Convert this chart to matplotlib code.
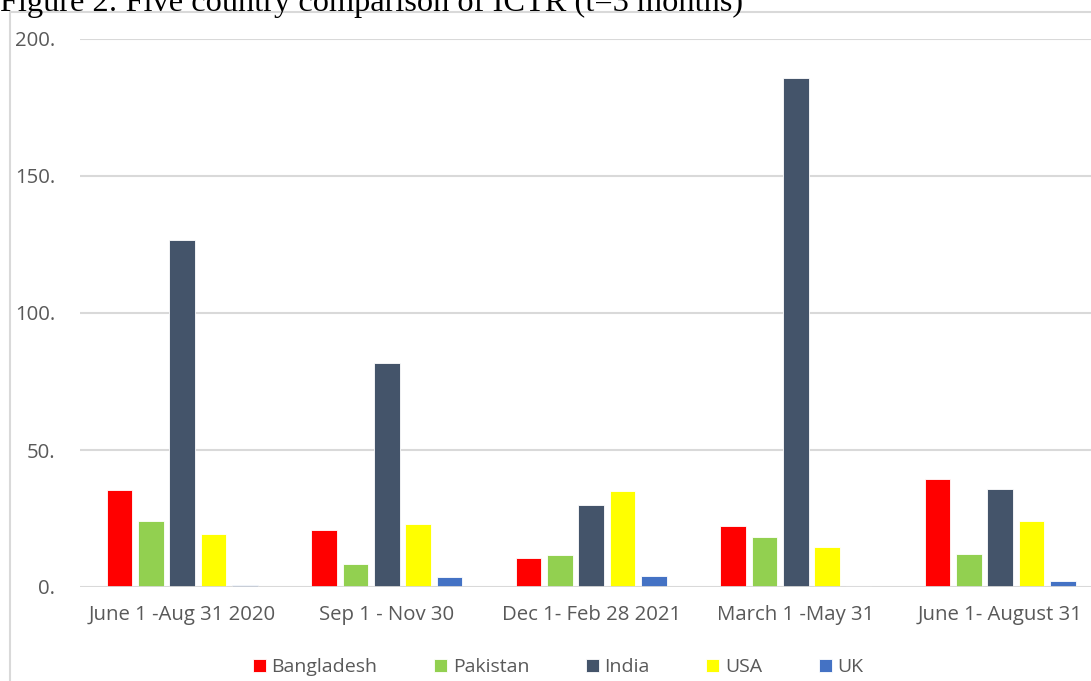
import matplotlib.pyplot as plt
from matplotlib.patches import Rectangle
import numpy as np

periods = ['June 1 -Aug 31 2020', 'Sep 1 - Nov 30', 'Dec 1- Feb 28 2021',
           'March 1 -May 31', 'June 1- August 31']
countries = ['Bangladesh', 'Pakistan', 'India', 'USA', 'UK']

bangladesh = [35.4, 20.8, 10.6, 22.3, 39.4]
pakistan = [24.1, 8.4, 11.7, 18.2, 12.0]
india = [126.6, 81.8, 29.9, 185.8, 35.8]
usa = [19.3, 23.0, 35.0, 14.6, 24.1]
uk = [0.7, 3.6, 4.0, 0.3, 2.2]

yticks = [0, 50, 100, 150, 200]
ytick_labels = ['0.', '50.', '100.', '150.', '200.']

colors = ['#FF0000', '#92D050', '#44546A', '#FFFF00', '#4472C4']
series = [bangladesh, pakistan, india, usa, uk]

plt.rcParams['font.family'] = ['Open Sans', 'DejaVu Sans']

W, H = 1091, 681
fig = plt.figure(figsize=(W / 100, H / 100), dpi=100)

# frame around the chart
fig.patches.append(Rectangle((10 / W, -0.1), 1.2, 1 - 12 / H + 0.1,
                             transform=fig.transFigure, fill=False,
                             edgecolor='#d9d9d9', linewidth=1.5))

# title (cut off at the top like the source)
fig.text(0.0, 1 - 11 / H, 'Figure 2: Five country comparison of ICTR (t=3 months)',
         family='Liberation Serif', fontsize=23.3, va='baseline', ha='left',
         color='black')

ax = fig.add_axes([80 / W, (H - 587) / H, 1022.5 / W, 548 / H])

x = np.arange(len(periods))
step = 0.153
width = 0.125
for i, (name, vals, c) in enumerate(zip(countries, series, colors)):
    ax.bar(x + (i - 2) * step, vals, width, color=c, label=name,
           edgecolor='white', linewidth=0.6, zorder=3)

ax.set_xlim(-0.5, 4.5)
ax.set_ylim(0, 200)
ax.set_yticks(yticks)
ax.set_yticklabels(ytick_labels)
ax.set_xticks(x)
ax.set_xticklabels(periods)
ax.tick_params(axis='both', length=0, colors='#595959', labelsize=14.7)
ax.tick_params(axis='y', pad=18)
ax.tick_params(axis='x', pad=13)
for s in ax.spines.values():
    s.set_visible(False)
ax.yaxis.grid(True, color='#d9d9d9', linewidth=1.5, zorder=0)
ax.axhline(0, color='#d9d9d9', linewidth=2, zorder=4)

leg = fig.legend(loc='center', bbox_to_anchor=(558 / W, (H - 667) / H), ncol=5,
                 frameon=False, fontsize=14, handlelength=0.67, handleheight=0.67,
                 handletextpad=0.3, columnspacing=2.9)
for t in leg.get_texts():
    t.set_color('#595959')

plt.savefig('out.png', dpi=100)
